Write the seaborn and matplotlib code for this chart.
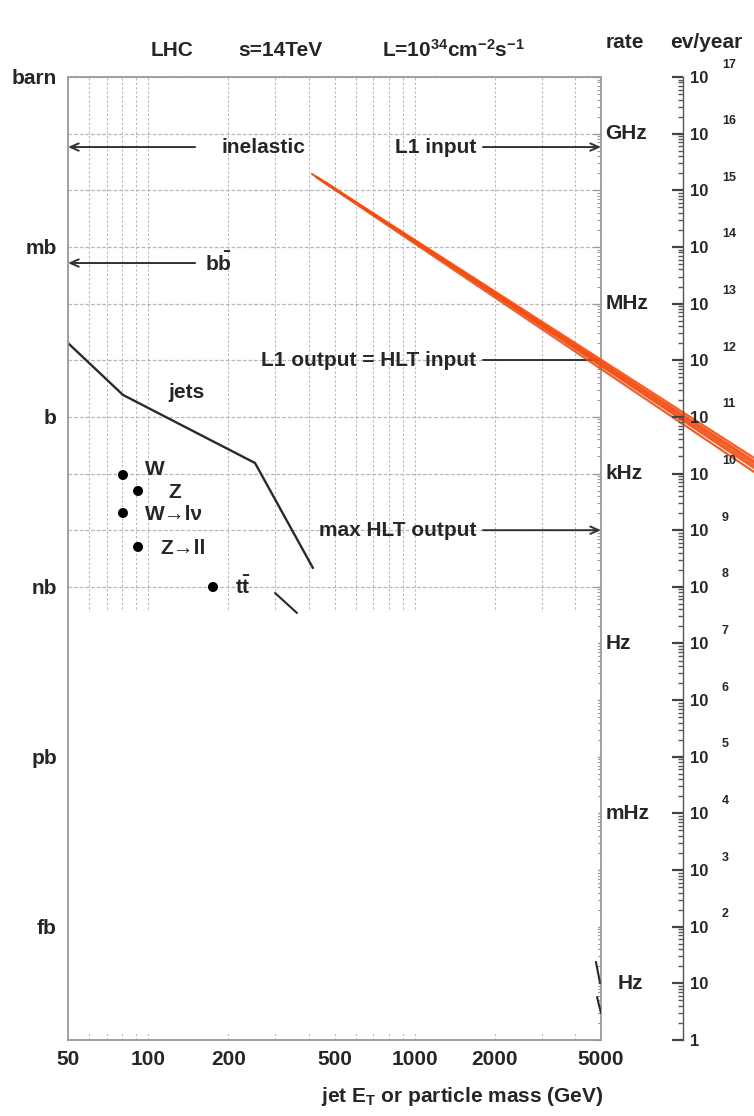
import numpy as np
import pandas as pd
import matplotlib
matplotlib.use("Agg")
import matplotlib.pyplot as plt
import matplotlib.transforms as mtransforms
from matplotlib.patches import Rectangle
from matplotlib.ticker import FixedLocator, LogLocator, NullFormatter
import seaborn as sns

# ---------------- data ----------------
# QCD jet cross-section versus jet E_T (GeV, barn)
jet_et = [50.0, 80.4, 251.6, 415.0]
jet_sigma = [2.01e-5, 2.44e-6, 1.535e-7, 2.15e-9]

# single processes: mass (GeV) and cross-section (barn)
proc_labels = ["W", "Z", "W\u2192l\u03bd", "Z\u2192ll", r"$\mathbf{t\bar{t}}$"]
proc_mass = [80.4, 91.6, 80.4, 91.6, 175.0]
proc_sigma = [9.42e-8, 4.92e-8, 2.01e-8, 5.06e-9, 9.93e-10]

# partially shown curves
curve_a_x = [299.1, 361.6]
curve_a_sigma = [7.79e-10, 3.45e-10]
curve_b_x = [4786.0, 4958.0]
curve_b_sigma = [2.39e-16, 1.02e-16]
curve_c_x = [4831.0, 5000.0]
curve_c_sigma = [5.75e-17, 3.0e-17]

# reference levels (barn)
inelastic_sigma = 0.058
bbbar_sigma = 5.2e-4
l1_output_sigma = 1.0e-5
max_hlt_sigma = 1.0e-8

# extrapolation strokes (GeV, barn)
red_x_start = [411.7, 433.6, 460.7, 426.1, 481.0, 445.0]
red_x_end = [18760.0, 18760.0, 18760.0, 18760.0, 18760.0, 18760.0]
red_sigma_start = [0.01941, 0.01648, 0.01403, 0.01718, 0.01191, 0.0152]
red_sigma_end = [1.884e-7, 1.535e-7, 1.253e-7, 1.064e-7, 1.667e-7, 1.38e-7]

# axes ticks
x_major = [50, 100, 200, 500, 1000, 2000, 5000]
x_minor = [60, 70, 80, 90, 300, 400, 600, 700, 800, 900, 3000, 4000]
sigma_decades = np.arange(-17, 1)
sigma_unit_labels = {0: "barn", -3: "mb", -6: "b", -9: "nb", -12: "pb", -15: "fb"}
rate_hz = [1e9, 1e6, 1e3, 1.0, 1e-3, 1e-6]
rate_labels = ["GHz", "MHz", "kHz", "Hz", "mHz", "Hz"]
lumi_per_barn_s = 1e10          # 10^34 cm^-2 s^-1 expressed in barn^-1 s^-1
events_per_barn_year = 1e17     # one year of running at that luminosity
ev_decades = np.arange(0, 18)

# ---------------- style ----------------
sns.set_theme(style="white")
plt.rcParams['font.family'] = ['Liberation Sans', 'DejaVu Sans']
plt.rcParams['font.weight'] = 'bold'
plt.rcParams['mathtext.fontset'] = 'custom'
plt.rcParams['mathtext.rm'] = 'Liberation Sans:bold'
plt.rcParams['mathtext.it'] = 'Liberation Sans:bold:italic'
plt.rcParams['mathtext.bf'] = 'Liberation Sans:bold'

INK = '#262626'
GRID = '#b8b8b8'
SPINE = '#9a9a9a'
RED = '#f24e14'
FS = 15

W, H = 754, 1116
fig = plt.figure(figsize=(W / 100, H / 100), dpi=100)
fig.patch.set_facecolor('white')
ax = fig.add_axes([68 / W, 76 / H, 533 / W, 963 / H])
ax.set_xscale('log')
ax.set_yscale('log')
ax.set_xlim(50, 5000)
ax.set_ylim(1e-17, 1)

# x axis
ax.xaxis.set_major_locator(FixedLocator(x_major))
ax.xaxis.set_minor_locator(FixedLocator(x_minor))
ax.set_xticklabels([str(v) for v in x_major])
ax.xaxis.set_minor_formatter(NullFormatter())
ax.tick_params(axis='x', which='both', direction='in', length=5, width=0.9,
               color=SPINE, labelsize=FS, labelcolor=INK, pad=7)

# left sigma axis
ax.yaxis.set_major_locator(FixedLocator(10.0 ** sigma_decades))
ax.set_yticklabels([sigma_unit_labels.get(int(d), "") for d in sigma_decades])
ax.yaxis.set_minor_locator(LogLocator(base=10, subs=np.arange(2, 10), numticks=200))
ax.yaxis.set_minor_formatter(NullFormatter())
ax.tick_params(axis='y', which='major', direction='in', length=6, width=0.9,
               color=SPINE, labelsize=FS, labelcolor=INK, pad=8, right=True)
ax.tick_params(axis='y', which='minor', direction='in', length=3, width=0.8,
               color=SPINE, right=True)

ax.grid(True, which='both', axis='x', color=GRID, lw=0.8, ls=(0, (2, 2)))
ax.grid(True, which='major', axis='y', color=GRID, lw=0.9, ls=(0, (3, 1.5)))
ax.set_axisbelow(True)
for s in ax.spines.values():
    s.set_color(SPINE)
    s.set_linewidth(1.3)

# jets
sns.lineplot(x=jet_et, y=jet_sigma, sort=False, estimator=None, color='#2a2a2a',
             lw=1.7, ax=ax)
ax.text(118.7, 2.64e-6, "jets", fontsize=FS, color=INK, va='center', ha='left')

# processes
sns.scatterplot(x=proc_mass, y=proc_sigma, color='black', s=52, edgecolor='none',
                ax=ax, zorder=3)
label_offsets = [(16, 4), (22, -1), (16, -1), (16, -1), (16, 0)]
for lab, m, sg, off in zip(proc_labels, proc_mass, proc_sigma, label_offsets):
    ax.annotate(lab, xy=(m, sg), xytext=off, textcoords='offset points',
                fontsize=FS, color=INK, va='center', ha='left')

# partial curves
for cx, cs in [(curve_a_x, curve_a_sigma), (curve_b_x, curve_b_sigma),
               (curve_c_x, curve_c_sigma)]:
    sns.lineplot(x=cx, y=cs, sort=False, estimator=None, color='#2a2a2a', lw=1.5,
                 ax=ax, zorder=3)

# level arrows
arrow_kw = dict(arrowstyle='->,head_length=0.5,head_width=0.22', color='#333333',
                lw=1.4, shrinkA=0, shrinkB=0)
ax.annotate("", xy=(50, inelastic_sigma), xytext=(150, inelastic_sigma),
            arrowprops=arrow_kw)
ax.text(189, inelastic_sigma, "inelastic", fontsize=FS, color=INK, va='center')
ax.annotate("", xy=(50, bbbar_sigma), xytext=(150, bbbar_sigma), arrowprops=arrow_kw)
ax.text(163, bbbar_sigma, r"$\mathbf{b\bar{b}}$", fontsize=FS, color=INK, va='center')

ax.annotate("", xy=(5000, inelastic_sigma), xytext=(1804, inelastic_sigma),
            arrowprops=arrow_kw)
ax.text(1698, inelastic_sigma, "L1 input", fontsize=FS, color=INK, va='center', ha='right')
ax.plot([1804, 5000], [l1_output_sigma, l1_output_sigma], color='#333333', lw=1.4)
ax.text(1698, l1_output_sigma, "L1 output = HLT input", fontsize=FS, color=INK,
        va='center', ha='right')
ax.annotate("", xy=(5000, max_hlt_sigma), xytext=(1804, max_hlt_sigma),
            arrowprops=arrow_kw)
ax.text(1698, max_hlt_sigma, "max HLT output", fontsize=FS, color=INK,
        va='center', ha='right')

# blank lower panel
ax.add_patch(Rectangle((0, 6 / 963), 1 - 3 / 533, (1040 - 612 - 6) / 963,
                       transform=ax.transAxes, facecolor='white', edgecolor='none',
                       zorder=2.2))

# extrapolation strokes
strokes = pd.DataFrame({
    'stroke': np.repeat(np.arange(len(red_x_start)), 2),
    'x': np.ravel(np.column_stack([red_x_start, red_x_end])),
    'sigma': np.ravel(np.column_stack([red_sigma_start, red_sigma_end])),
})
sns.lineplot(data=strokes, x='x', y='sigma', units='stroke', estimator=None,
             sort=False, color=RED, lw=1.6, alpha=0.9, ax=ax, clip_on=False, zorder=6)
ax.set_xlabel("")
ax.set_ylabel("")

# rate labels just right of the frame
blend = mtransforms.blended_transform_factory(ax.transAxes, ax.transData)
rate_offsets = [3, 3, 3, 3, 3, 12]
for r, lab, dx in zip(rate_hz, rate_labels, rate_offsets):
    ax.annotate(lab, xy=(1.0, r / lumi_per_barn_s), xycoords=blend, xytext=(dx, 0),
                textcoords='offset points', fontsize=FS, color=INK, va='center',
                ha='left', annotation_clip=False)

# events per year axis
ev = fig.add_axes([673 / W, 76 / H, 10 / W, 963 / H])
ev.set_yscale('log')
ev.set_ylim(ax.get_ylim()[0] * events_per_barn_year, ax.get_ylim()[1] * events_per_barn_year)
ev.patch.set_alpha(0)
for s in ['left', 'top', 'bottom']:
    ev.spines[s].set_visible(False)
ev.spines['right'].set_color('#555555')
ev.spines['right'].set_linewidth(1.0)
ev.set_xticks([])
ev.yaxis.tick_right()
ev.yaxis.set_major_locator(FixedLocator(10.0 ** ev_decades))
ev.set_yticklabels(["1" if d == 0 else "10" for d in ev_decades])
ev.yaxis.set_minor_locator(LogLocator(base=10, subs=np.arange(2, 10), numticks=200))
ev.yaxis.set_minor_formatter(NullFormatter())
ev.tick_params(axis='y', which='major', direction='in', length=8, width=1.6,
               color='#444444', labelsize=12, labelcolor=INK, pad=5)
ev.tick_params(axis='y', which='minor', direction='in', length=3.5, width=1.0,
               color='#555555')
for d in ev_decades[2:]:
    ev.annotate(str(d), xy=(1.0, 10.0 ** d), xycoords=('axes fraction', 'data'),
                xytext=(28, 9), textcoords='offset points', fontsize=9, color=INK,
                va='center', ha='left', annotation_clip=False)

# header and axis title
fig.text(172 / W, 1 - 50 / H, "LHC", ha='center', va='center', fontsize=FS, color=INK)
fig.text(280 / W, 1 - 50 / H, "s=14TeV", ha='center', va='center', fontsize=FS, color=INK)
fig.text(453 / W, 1 - 50 / H, r"L=10$^{34}$cm$^{-2}$s$^{-1}$", ha='center', va='center',
         fontsize=FS, color=INK)
fig.text(625 / W, 1 - 43 / H, "rate", ha='center', va='center', fontsize=FS, color=INK)
fig.text(706 / W, 1 - 43 / H, "ev/year", ha='center', va='center', fontsize=FS, color=INK)
fig.text(462 / W, 1 - 1097 / H, r"jet E$_\mathbf{T}$ or particle mass (GeV)",
         ha='center', va='center', fontsize=FS, color=INK)

fig.savefig("out.png", dpi=100, facecolor='white')
